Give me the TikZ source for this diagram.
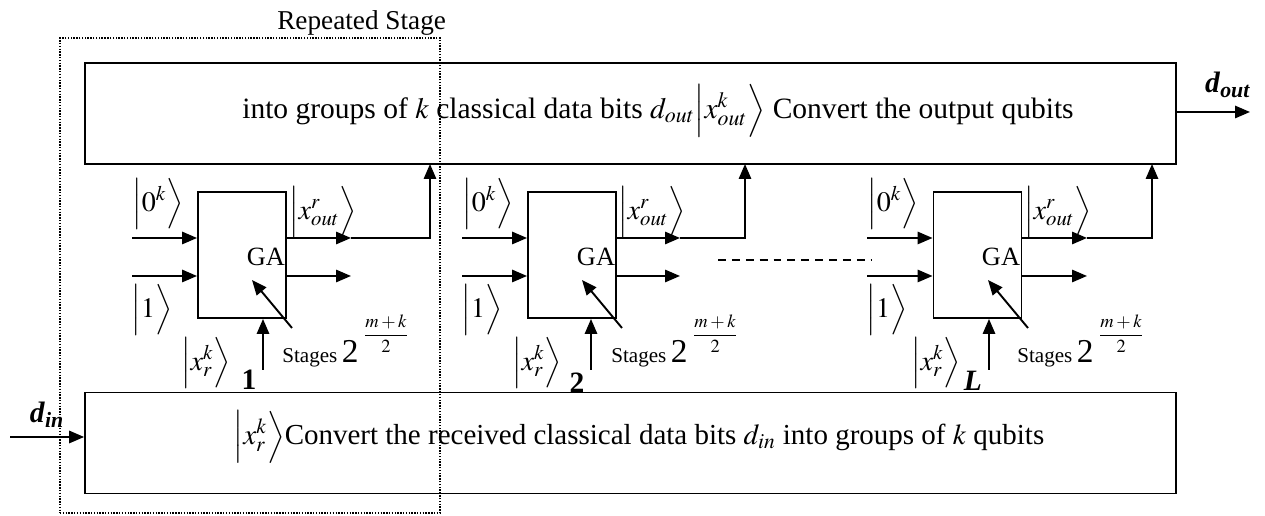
\documentclass[tikz,border=0pt]{standalone}
\usepackage{amsmath}
\usepackage{mathptmx}
\usepackage[no-math]{fontspec}
\setmainfont{Liberation Serif}
\usepackage{tikz}
\usetikzlibrary{positioning}
\usetikzlibrary{arrows.meta}

\tikzset{
	convbox/.style={draw, line width=1.1pt, minimum width=21.82cm, minimum height=2.02cm, inner sep=0pt},
	gabox/.style={draw, line width=1.1pt, minimum width=1.76cm, minimum height=2.52cm, inner sep=0pt},
	qarrow/.style={line width=1.1pt, -{Triangle[length=8.5pt,width=7pt]}},
	qline/.style={line width=1.1pt},
	stageframe/.style={draw, line width=1.2pt, dash pattern=on 0.8pt off 0.8pt, minimum width=7.6cm, minimum height=9.5cm, inner sep=0pt},
	bigtext/.style={font=\fontsize{16.8}{20}\selectfont, inner sep=0pt},
	kettext/.style={font=\fontsize{16}{19}\selectfont, inner sep=0pt},
	gatext/.style={font=\fontsize{15}{18}\selectfont, inner sep=0pt},
	stagetext/.style={inner sep=0pt, anchor=base west},
}

\begin{document}
\begin{tikzpicture}[x=0.02cm, y=0.02cm]

		% ---------------------
		% Proper size --- Bounding box
		\useasboundingbox (0,0) rectangle (1265,516);

		% ---------------------
		% Conversion boxes & repeated stage frame
		\node[convbox] (OutBox) at (630.5,402.5) {};
		\node[convbox] (InBox) at (630.5,73) {};
		\node[stageframe] (Frame) at (250,240.5) {};

		\node[bigtext, above left=0.5pt and -3pt of Frame.north east, font=\fontsize{15.5}{18}\selectfont] (RepLbl) {Repeated Stage};

		\node[bigtext] (OutTxt) at (658,405) {into groups of $k$ classical data bits $d_{out}\Big|x^{k}_{out}\Big\rangle$ Convert the output qubits};
		\node[bigtext, font=\fontsize{16.5}{20}\selectfont] (InTxt) at (639,79) {$\Big|x^{k}_{r}\Big\rangle$Convert the received classical data bits $d_{in}$ into groups of $k$ qubits};

		\coordinate (DoutEnd) at (1250,404);
		\coordinate (DinStart) at (10,79);
		\node[bigtext] (Dout) at (1228,431) {\textbf{\textit{d}\textsubscript{\textit{out}}}};
		\node[bigtext] (Din) at (47,101) {\textbf{\textit{d}\textsubscript{\textit{in}}}};

		\draw[qarrow] (OutBox.east |- DoutEnd) -- (DoutEnd);
		\draw[qarrow] (DinStart) -- (DinStart -| InBox.west);

		% ---------------------
		% Stage 1
		\node[gabox] (GA1) at (242,261) {};
		\node[gatext] (GAt1) at (266,259) {GA};

		\coordinate (In1a) at (132,278);
		\coordinate (In1b) at (132,240);
		\coordinate (Out1a) at (351,278);
		\coordinate (Out1b) at (351,240);
		\coordinate (Up1) at (430,352);
		\coordinate (Knob1) at (292,188);
		\coordinate (Tip1) at (252,236);
		\coordinate (Xin1) at (263,146);

		\node[kettext] (Zero1) at (158,312) {$\Big|0^{k}\Big\rangle$};
		\node[kettext] (One1) at (152,206) {$\Big|1\Big\rangle$};
		\node[kettext] (Xout1) at (323,304) {$\Big|x^{r}_{out}\Big\rangle$};
		\node[kettext] (Xr1) at (206,153) {$\Big|x^{k}_{r}\Big\rangle$};
		\node[bigtext] (Sub1) at (249,136) {\textbf{1}};
		\node[stagetext] (Stg1) at (282,153) {{\fontsize{12}{14}\selectfont Stages} {\fontsize{19}{22}\selectfont 2}\;\raisebox{13pt}{\fontsize{10.5}{12}\selectfont$\displaystyle\frac{m+k}{2}$}};

		\draw[qarrow] (In1a) -- (In1a -| GA1.west);
		\draw[qarrow] (In1b) -- (In1b -| GA1.west);
		\draw[qarrow] (Out1a -| GA1.east) -- (Out1a);
		\draw[qarrow] (Out1b -| GA1.east) -- (Out1b);
		\draw[qarrow] (Out1a) -| (Up1);
		\draw[qarrow] (Knob1) -- (Tip1);
		\draw[qarrow] (Xin1) -- (Xin1 |- GA1.south);

		% ---------------------
		% Stage 2
		\node[gabox] (GA2) at (572,261) {};
		\node[gatext] (GAt2) at (596,259) {GA};

		\coordinate (In2a) at (462,278);
		\coordinate (In2b) at (462,240);
		\coordinate (Out2a) at (680,278);
		\coordinate (Out2b) at (680,240);
		\coordinate (Up2) at (745,352);
		\coordinate (Knob2) at (622,188);
		\coordinate (Tip2) at (582,236);
		\coordinate (Xin2) at (591,146);

		\node[kettext] (Zero2) at (488,312) {$\Big|0^{k}\Big\rangle$};
		\node[kettext] (One2) at (482,206) {$\Big|1\Big\rangle$};
		\node[kettext] (Xout2) at (652,304) {$\Big|x^{r}_{out}\Big\rangle$};
		\node[kettext] (Xr2) at (537,153) {$\Big|x^{k}_{r}\Big\rangle$};
		\node[bigtext] (Sub2) at (577,133) {\textbf{2}};
		\node[stagetext] (Stg2) at (611,153) {{\fontsize{12}{14}\selectfont Stages} {\fontsize{19}{22}\selectfont 2}\;\raisebox{13pt}{\fontsize{10.5}{12}\selectfont$\displaystyle\frac{m+k}{2}$}};

		\draw[qarrow] (In2a) -- (In2a -| GA2.west);
		\draw[qarrow] (In2b) -- (In2b -| GA2.west);
		\draw[qarrow] (Out2a -| GA2.east) -- (Out2a);
		\draw[qarrow] (Out2b -| GA2.east) -- (Out2b);
		\draw[qarrow] (Out2a) -| (Up2);
		\draw[qarrow] (Knob2) -- (Tip2);
		\draw[qarrow] (Xin2) -- (Xin2 |- GA2.south);

		% ---------------------
		% Dots between stages
		\coordinate (DotsA) at (718,256);
		\coordinate (DotsB) at (872,256);
		\draw[line width=1.1pt, dash pattern=on 4.5pt off 3.4pt] (DotsA) -- (DotsB);

		% ---------------------
		% Stage L
		\node[gabox] (GA3) at (977.5,261) {};
		\node[gatext] (GAt3) at (1001,259) {GA};

		\coordinate (In3a) at (867,278);
		\coordinate (In3b) at (867,240);
		\coordinate (Out3a) at (1087,278);
		\coordinate (Out3b) at (1087,240);
		\coordinate (Up3) at (1152,352);
		\coordinate (Knob3) at (1028,188);
		\coordinate (Tip3) at (988,236);
		\coordinate (Xin3) at (989,146);

		\node[kettext] (Zero3) at (893,312) {$\Big|0^{k}\Big\rangle$};
		\node[kettext] (One3) at (887,206) {$\Big|1\Big\rangle$};
		\node[kettext] (Xout3) at (1058,304) {$\Big|x^{r}_{out}\Big\rangle$};
		\node[kettext] (Xr3) at (936,153) {$\Big|x^{k}_{r}\Big\rangle$};
		\node[bigtext] (Sub3) at (973,135) {\textbf{\textit{L}}};
		\node[stagetext] (Stg3) at (1017,153) {{\fontsize{12}{14}\selectfont Stages} {\fontsize{19}{22}\selectfont 2}\;\raisebox{13pt}{\fontsize{10.5}{12}\selectfont$\displaystyle\frac{m+k}{2}$}};

		\draw[qarrow] (In3a) -- (In3a -| GA3.west);
		\draw[qarrow] (In3b) -- (In3b -| GA3.west);
		\draw[qarrow] (Out3a -| GA3.east) -- (Out3a);
		\draw[qarrow] (Out3b -| GA3.east) -- (Out3b);
		\draw[qarrow] (Out3a) -| (Up3);
		\draw[qarrow] (Knob3) -- (Tip3);
		\draw[qarrow] (Xin3) -- (Xin3 |- GA3.south);

\end{tikzpicture}
\end{document}
